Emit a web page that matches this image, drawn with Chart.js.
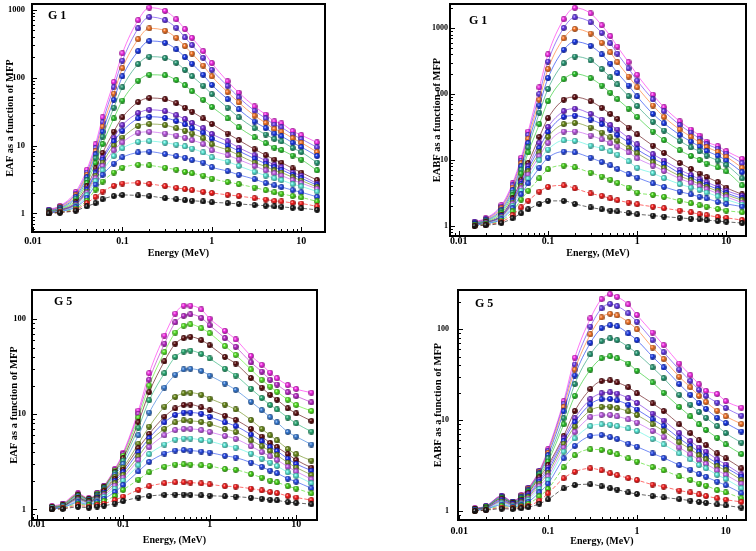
<!DOCTYPE html>
<html><head><meta charset="utf-8">
<script src="https://cdn.jsdelivr.net/npm/chart.js@4.4.1/dist/chart.umd.min.js"></script>
<style>
html,body{margin:0;padding:0;background:#fff;}
#wrap{position:relative;width:756px;height:551px;overflow:hidden;background:#fff;}
#wrap canvas{position:absolute;left:0;top:0;}
</style></head>
<body><div id="wrap">
<canvas id="c1" width="756" height="551"></canvas>
<canvas id="c2" width="756" height="551"></canvas>
<canvas id="c3" width="756" height="551"></canvas>
<canvas id="c4" width="756" height="551"></canvas>
</div>
<script>
// ---------- DATA ----------
const energies = [0.015,0.02,0.03,0.04,0.05,0.06,0.08,0.1,0.15,0.2,0.3,0.4,0.5,0.6,0.8,1,1.5,2,3,4,5,6,8,10,15];
const mfpValues = [0.5,1,2,3,4,5,6,7,8,10,15,20,25,30,35,40];
const xTickLabels = ['0.01','0.1','1','10'];
const yTickLabelsTop = ['1','10','100','1000'];
const yTickLabelsBottom = ['1','10','100'];

// G1 EAF (rows: mfp 0.5 ... 40)
const g1EAF = [
 [1.0,1.03,1.1,1.27,1.42,1.62,1.80,1.87,1.84,1.80,1.68,1.62,1.57,1.54,1.50,1.46,1.42,1.38,1.33,1.3,1.27,1.25,1.21,1.19,1.13],
 [1.01,1.04,1.13,1.42,1.75,2.1,2.55,2.75,2.82,2.72,2.52,2.38,2.28,2.2,2.08,2.0,1.88,1.8,1.68,1.6,1.53,1.5,1.43,1.4,1.27],
 [1.02,1.05,1.18,1.55,2.25,2.95,4.0,4.7,5.2,5.1,4.7,4.4,4.1,3.9,3.6,3.25,2.9,2.7,2.4,2.2,2.05,1.95,1.8,1.72,1.5],
 [1.02,1.06,1.24,1.7,2.65,3.7,5.4,6.7,7.9,8.1,7.5,7.0,6.6,6.1,5.6,4.8,4.2,3.7,3.2,2.8,2.6,2.45,2.2,2.05,1.75],
 [1.03,1.07,1.28,1.85,3.0,4.3,7.0,9.1,11.3,11.6,11,10.3,9.7,9.0,7.9,6.7,5.8,5.0,4.1,3.6,3.3,3.1,2.7,2.5,2.1],
 [1.03,1.08,1.32,2.0,3.3,5.0,8.5,11.1,15.4,15.9,15,14,13,12,10.5,8.5,7.2,6.2,5.0,4.3,3.9,3.6,3.1,2.8,2.3],
 [1.04,1.09,1.35,2.1,3.6,5.6,10,13.1,19.4,20.7,20,18,16.5,15,12.8,10.4,8.6,7.2,5.6,4.9,4.3,4.0,3.4,3.05,2.45],
 [1.04,1.10,1.38,2.2,3.9,6.2,11.5,16.4,25,26.5,25.5,23,20.5,18,15.5,12.6,10,8.3,6.4,5.4,4.8,4.4,3.7,3.3,2.6],
 [1.05,1.11,1.40,2.3,4.1,6.6,13,20,30,33.5,32,28,24.5,21.5,18,14.8,11.5,9.3,7.2,6.0,5.2,4.8,4.0,3.6,2.75],
 [1.05,1.12,1.45,2.5,4.6,7.8,16,26,43.6,50,48,42,36,31.5,25,20.8,15,12,8.8,7.2,6.2,5.6,4.6,4.0,3.1],
 [1.06,1.14,1.55,2.8,5.5,10.5,25,46,90,110,108,92,77,63,47,37,25,18.5,13.2,10.8,9.3,8.6,7.1,6.2,4.3],
 [1.08,1.17,1.65,3.1,6.5,13.5,36,72,158,203,195,165,130,105,76,57,36,26,18,14.5,12.5,11.5,9.2,8.0,5.6],
 [1.09,1.20,1.75,3.4,7.4,16,47,104,245,345,325,260,200,160,110,78,48,34,22.5,18,15,13.7,11,9.5,7.0],
 [1.10,1.23,1.85,3.7,8.3,19,58,138,367,530,490,385,290,225,150,104,61,43,27.5,21.5,17.5,16,12.8,11,8.0],
 [1.12,1.26,1.95,4.0,9.2,22,72,177,530,780,700,540,390,300,195,130,75,51,32.5,25,20.3,18.5,14.5,12.5,9.4],
 [1.14,1.29,2.07,4.4,10.4,26,86,228,700,1070,960,720,515,385,245,163,88,60,37.6,28.5,22.7,21.2,16.3,14.2,11.1]
];

// G1 EABF
const g1EABF = [
 [1.0,1.02,1.1,1.3,1.55,1.78,2.15,2.39,2.39,2.15,1.9,1.78,1.7,1.65,1.56,1.5,1.43,1.38,1.32,1.28,1.25,1.22,1.18,1.15,1.1],
 [1.01,1.04,1.15,1.45,1.9,2.4,3.3,3.9,4.1,3.7,3.1,2.85,2.6,2.45,2.25,2.12,1.95,1.85,1.7,1.6,1.5,1.45,1.36,1.32,1.22],
 [1.02,1.06,1.2,1.65,2.5,3.4,5.25,7.2,8.2,7.7,6.4,5.6,5.0,4.5,3.8,3.2,2.95,2.75,2.4,2.2,2.05,1.95,1.8,1.7,1.6],
 [1.03,1.07,1.26,1.85,3.0,4.4,7.6,10.8,13.4,13,10.8,9.3,8.3,7.3,6.1,5.4,4.4,3.9,3.3,3.0,2.75,2.6,2.3,2.15,1.96],
 [1.03,1.08,1.3,2.0,3.4,5.2,9.9,14.4,19.8,19.5,16.5,15,13.5,12,9.5,7.6,6.3,5.3,4.3,3.8,3.5,3.2,2.8,2.5,2.1],
 [1.04,1.09,1.34,2.15,3.7,6.0,11.4,18.2,27,27,23.5,20.5,18,16,13,10.6,8.2,6.8,5.2,4.5,4.0,3.6,3.1,2.75,2.25],
 [1.04,1.10,1.37,2.25,4.0,6.7,13,22.4,35,36.5,31,26,22,19.5,15.2,12.6,9.2,7.6,5.7,4.9,4.3,3.9,3.35,2.95,2.45],
 [1.05,1.11,1.40,2.35,4.3,7.3,15.3,26.5,45,47,41,35,29,24,18.5,14.5,10.5,8.7,6.3,5.4,4.7,4.2,3.6,3.15,2.6],
 [1.05,1.12,1.42,2.45,4.6,8.0,18.2,31.7,55,60,50,41,34,29,21.5,17.2,12.2,9.8,7.1,5.9,5.1,4.6,3.9,3.4,2.85],
 [1.06,1.13,1.45,2.6,5.0,9.0,22.4,43,82,90,78,62,50,42,31,24.5,16.5,12.8,9.0,7.3,6.2,5.5,4.6,3.8,3.0],
 [1.07,1.15,1.55,2.9,6.2,13,35,78,168,203,175,135,105,84,60,45,27,20,14,11.5,10,8.8,7.7,6.7,4.1],
 [1.08,1.18,1.65,3.2,7.1,15.5,52,120,295,372,325,240,180,140,93,66,38,28,19.5,15.5,13.5,11.6,9.8,8.4,5.25],
 [1.1,1.21,1.75,3.5,8.0,18,67,175,470,625,540,400,290,210,135,92,50,36,24,19,16,13.7,11.6,9.8,6.5],
 [1.11,1.24,1.85,3.8,8.9,21,82,240,700,975,830,600,430,305,185,127,67,45,29,22.5,18.5,15.7,13.3,11.2,7.6],
 [1.13,1.27,1.95,4.1,9.8,24,100,310,1010,1460,1230,850,590,410,245,160,83,55,34,26,21,17.5,14.8,12.5,8.9],
 [1.15,1.3,2.05,4.4,10.8,27,126,400,1370,2040,1680,1110,760,525,305,196,98,63,38.5,29,23.5,18.9,16.2,13.6,10.4]
];

// G5 EAF
const g5EAF = [
 [1.0,1.01,1.06,1.04,1.07,1.09,1.15,1.22,1.33,1.38,1.42,1.43,1.43,1.42,1.40,1.39,1.37,1.36,1.32,1.29,1.26,1.24,1.19,1.17,1.13],
 [1.01,1.02,1.10,1.07,1.11,1.15,1.25,1.36,1.60,1.75,1.88,1.92,1.92,1.91,1.87,1.83,1.75,1.73,1.65,1.58,1.52,1.48,1.38,1.33,1.25],
 [1.01,1.03,1.14,1.10,1.15,1.22,1.38,1.60,2.05,2.45,2.80,2.95,2.97,2.95,2.90,2.85,2.65,2.60,2.35,2.15,2.0,1.92,1.75,1.65,1.47],
 [1.01,1.04,1.18,1.12,1.19,1.29,1.52,1.80,2.50,3.15,3.85,4.15,4.2,4.15,4.05,3.95,3.65,3.5,3.1,2.8,2.55,2.4,2.1,1.95,1.66],
 [1.02,1.05,1.21,1.14,1.22,1.35,1.65,2.0,2.9,3.8,4.8,5.4,5.55,5.55,5.35,5.2,4.7,4.45,3.85,3.4,3.1,2.85,2.45,2.25,1.88],
 [1.02,1.05,1.24,1.16,1.25,1.40,1.77,2.15,3.3,4.5,6.0,6.8,7.0,7.0,6.8,6.5,5.9,5.5,4.6,4.0,3.6,3.3,2.8,2.5,2.07],
 [1.02,1.06,1.27,1.18,1.28,1.45,1.88,2.3,3.6,5.1,7.0,8.2,8.6,8.5,8.3,7.9,7.0,6.5,5.3,4.6,4.1,3.7,3.1,2.75,2.3],
 [1.03,1.06,1.29,1.19,1.30,1.50,1.98,2.45,4.0,5.6,8.2,9.8,10.4,10.4,10.1,9.4,8.2,7.5,6.1,5.2,4.5,4.1,3.4,3.0,2.55],
 [1.03,1.07,1.31,1.21,1.33,1.55,2.08,2.6,4.4,6.2,9.4,11.5,12.5,12.6,11.8,11.0,9.6,8.7,7.0,5.8,5.0,4.5,3.8,3.3,2.74],
 [1.03,1.07,1.33,1.22,1.35,1.58,2.18,2.75,4.9,7.4,12,15.2,16.6,16.8,16,14.6,12.6,11.2,8.7,7.0,6.0,5.3,4.3,3.8,3.25],
 [1.04,1.08,1.36,1.24,1.38,1.63,2.3,3.0,6.0,10.4,19,26,29.5,30,28.5,25.5,21,18,13.5,11,9.3,8.2,6.5,5.8,4.8],
 [1.04,1.09,1.38,1.25,1.40,1.67,2.4,3.25,7.2,14,27,40,45.5,46.5,43,38.5,30,25.5,18.5,14.8,12.5,11.2,9.2,8.0,6.55],
 [1.05,1.10,1.41,1.27,1.43,1.70,2.48,3.45,8.2,17,36,55,63,65,60,53,40,34,24,19,16,14.2,11.5,10.2,8.5],
 [1.06,1.12,1.43,1.28,1.45,1.73,2.55,3.65,9.2,20,45,72,85,88,80,71,52,42,29.5,23,19.5,17.2,14.2,12.5,10.8],
 [1.07,1.13,1.45,1.29,1.47,1.75,2.6,3.8,10.1,23,55,92,108,112,103,86,63,51,35,28,23,20.5,17,15.5,13.3],
 [1.08,1.15,1.47,1.30,1.48,1.77,2.65,3.94,10.9,26.9,67,114,138,138,126,101,75,61,41,33,27.3,23.8,20.2,18.4,16.8]
];

// G5 EABF
const g5EABF = [
 [1.0,1.02,1.06,1.05,1.07,1.1,1.2,1.34,1.77,1.93,1.97,1.87,1.78,1.72,1.6,1.54,1.46,1.41,1.35,1.3,1.26,1.23,1.18,1.15,1.09],
 [1.01,1.03,1.09,1.07,1.1,1.14,1.3,1.56,2.29,2.7,2.95,2.8,2.6,2.48,2.3,2.19,1.95,1.85,1.68,1.6,1.52,1.46,1.38,1.33,1.26],
 [1.01,1.04,1.13,1.09,1.13,1.2,1.45,1.75,3.02,4.1,4.77,4.7,4.45,4.2,3.8,3.5,3.05,2.8,2.4,2.2,2.0,1.9,1.7,1.6,1.38],
 [1.02,1.05,1.17,1.11,1.16,1.26,1.6,2.0,3.8,5.2,6.7,6.87,6.5,6.2,5.5,5.1,4.3,3.85,3.2,2.85,2.55,2.38,2.1,1.92,1.57],
 [1.02,1.05,1.21,1.13,1.19,1.32,1.75,2.2,4.5,6.3,8.6,9.0,8.9,8.6,8.1,7.6,6.2,5.4,4.3,3.7,3.2,2.95,2.5,2.25,1.78],
 [1.02,1.06,1.24,1.15,1.22,1.37,1.88,2.4,5.0,7.4,10.8,11.4,11.4,11.0,10.2,9.4,7.6,6.5,5.0,4.2,3.65,3.3,2.8,2.5,2.0],
 [1.03,1.07,1.27,1.17,1.25,1.42,2.0,2.6,5.5,8.5,12.8,14,14.1,13.6,12.5,11.4,9.0,7.6,5.7,4.8,4.1,3.7,3.1,2.8,2.19],
 [1.03,1.07,1.30,1.19,1.28,1.47,2.1,2.8,5.9,9.5,15,17,17.1,16.5,14.8,13.1,10.2,8.6,6.3,5.2,4.5,4.0,3.35,3.0,2.39],
 [1.03,1.08,1.33,1.2,1.3,1.52,2.2,3.0,6.3,10.5,17,19.8,20.2,19.6,17.5,15.5,11.8,9.9,7.2,5.9,5.0,4.5,3.7,3.25,2.53],
 [1.04,1.09,1.36,1.22,1.33,1.58,2.35,3.2,6.7,12.6,22,27,27.4,26,23,19.7,15.3,12.6,9.0,7.2,6.0,5.3,4.3,3.8,2.95],
 [1.04,1.10,1.38,1.23,1.36,1.62,2.45,3.5,9.0,18.5,36,48,50.4,48,42,35,26,20,14,11,9.0,7.8,6.4,5.4,4.24],
 [1.05,1.11,1.40,1.24,1.39,1.66,2.55,3.8,10.5,25,53,74,79.5,76,64,54.5,38,29,19,14.8,12.3,10.6,8.6,7.2,5.65],
 [1.05,1.12,1.42,1.25,1.42,1.70,2.62,4.1,12.5,31,71,103,111,108,90,76,50,38,25,19,15.5,13.3,10.6,9.3,7.5],
 [1.06,1.12,1.44,1.26,1.45,1.74,2.7,4.35,14,36,88,135,148,142,120,100,63,47,30,23,18.5,15.8,12.7,11,9.1],
 [1.06,1.13,1.46,1.27,1.48,1.77,2.75,4.55,15.2,41,107,170,190,180,150,121,76,56,36,27,21.5,18.5,15.6,13.6,11.2],
 [1.07,1.13,1.47,1.27,1.5,1.8,2.78,4.77,16.2,48.7,132,215,243,228,188,144,92,67,42,31.3,24.8,21,19.4,16.2,13.7]
];

// ---------- STYLES ----------
const coloursA = ['#1a1a1a','#ff2020','#4cdc1e','#2a4ef0','#5ef2e0','#c860f0','#6e8f1c','#1a2cf0','#7b2ee0','#620e12','#2ecc30','#2aa07a','#1c3cf0','#ff7a2a','#6a3cf0','#ff2ef0'];
const coloursB = ['#1a1a1a','#ff2020','#4cdc1e','#2a4ef0','#5ef2e0','#c860f0','#6e8f1c','#1a2cf0','#620e12','#6e8f1c','#3a80dc','#2db37a','#5e1010','#5cf02a','#c02ccf','#ff2ef0'];

function hexToRgb(h){const n=parseInt(h.slice(1),16);return [(n>>16)&255,(n>>8)&255,n&255];}
function rgba(h,a){const [r,g,b]=hexToRgb(h);return `rgba(${r},${g},${b},${a})`;}
function shade(h,f){const [r,g,b]=hexToRgb(h);const s=v=>Math.max(0,Math.min(255,Math.round(v*(1+f))));return `rgb(${s(r)},${s(g)},${s(b)})`;}
const spriteCache={};
function sphere(col){
  if(spriteCache[col]) return spriteCache[col];
  const s=6,c=document.createElement('canvas');c.width=s;c.height=s;
  const g=c.getContext('2d');
  const grd=g.createRadialGradient(2.1,2.0,0.2,3,3,3.1);
  grd.addColorStop(0,'#ffffff');grd.addColorStop(0.3,col);grd.addColorStop(1,shade(col,-0.5));
  g.fillStyle=grd;g.beginPath();g.arc(3,3,2.9,0,Math.PI*2);g.fill();
  spriteCache[col]=c;return c;
}

function makeTicks(min,max){
  const out=[];
  for(let k=Math.floor(Math.log10(min));k<=Math.ceil(Math.log10(max));k++){
    for(let m=1;m<=9;m++){
      const v=parseFloat((m*Math.pow(10,k)).toPrecision(6));
      if(v>=min&&v<=max) out.push({value:v,decade:m===1});
    }
  }
  return out;
}
function labelFor(list,v){const f=list.find(l=>Math.abs(parseFloat(l)-v)<1e-9*Math.max(1,v));return f||'';}

const framePlugin={
  id:'frame',
  afterDraw(chart,args,o){
    const {ctx,chartArea:a,scales:{x,y}}=chart;
    ctx.save();
    ctx.strokeStyle='#000';ctx.lineWidth=1;ctx.beginPath();
    x.ticks.forEach(t=>{const px=Math.round(x.getPixelForValue(t.value))+0.5;const L=t.decade?5:3;ctx.moveTo(px,a.bottom);ctx.lineTo(px,a.bottom-L);});
    y.ticks.forEach(t=>{const py=Math.round(y.getPixelForValue(t.value))+0.5;const L=t.decade?5:3;ctx.moveTo(a.left,py);ctx.lineTo(a.left+L,py);});
    ctx.stroke();
    ctx.lineWidth=2;ctx.strokeRect(a.left,a.top,a.right-a.left,a.bottom-a.top);
    ctx.fillStyle='#000';ctx.font='bold 12px "Liberation Serif"';ctx.textBaseline='middle';ctx.textAlign='left';
    ctx.fillText(o.label,o.lx,o.ly);
    ctx.restore();
  }
};

const panels=[
 {id:'c1',rows:g1EAF,colours:coloursA,label:'G 1',lx:48,ly:16,yTitle:'EAF as a function of MFP',xTitle:'Energy (MeV)',yLabels:yTickLabelsTop,yFont:8.5,
  L:32,R:325,T:2,B:232,yTitleX:10,yPad:7,xPad:3,xTitleY:253.5,xmin:0.00975,xmax:18.4,ymin:0.533,ymax:1212},
 {id:'c2',rows:g1EABF,colours:coloursA,label:'G 1',lx:469,ly:21,yTitle:'EABF as a function of MFP',xTitle:'Energy, (MeV)',yLabels:yTickLabelsTop,yFont:8,
  L:450,R:746,T:4,B:236,yTitleX:437,yPad:2,xPad:-1,xTitleY:253.3,xmin:0.00796,xmax:16.6,ymin:0.723,ymax:2335},
 {id:'c3',rows:g5EAF,colours:coloursB,label:'G 5',lx:54,ly:302,yTitle:'EAF as a function of MFP',xTitle:'Energy, (MeV)',yLabels:yTickLabelsBottom,yFont:8.5,
  L:32,R:317,T:290,B:520,yTitleX:14,yPad:6,xPad:-2,xTitleY:540,xmin:0.00883,xmax:17.4,ymin:0.772,ymax:202},
 {id:'c4',rows:g5EABF,colours:coloursA,label:'G 5',lx:475,ly:304,yTitle:'EABF as a function of MFP',xTitle:'Energy, (MeV)',yLabels:yTickLabelsBottom,yFont:8,
  L:458,R:746,T:290,B:520,yTitleX:438,yPad:9,xPad:5,xTitleY:541.7,xmin:0.0097,xmax:16.9,ymin:0.796,ymax:271}
];

const serif='"Liberation Serif", "Times New Roman", serif';
panels.forEach(p=>{
  const scaleLeft=p.yTitleX-6.3, W=p.L-scaleLeft;
  const scaleBottom=p.xTitleY+6, H=scaleBottom-p.B;
  const datasets=p.rows.map((vals,i)=>{
    const col=p.colours[i];
    return {
      label:mfpValues[i]+' mfp',
      data:energies.map((e,j)=>({x:e,y:vals[j]})),
      borderColor:rgba(col,0.65),borderWidth:1,
      borderDash:i<3?[4,2]:[],
      cubicInterpolationMode:'monotone',
      pointStyle:sphere(col),pointRadius:3,pointBorderWidth:0,
      backgroundColor:col
    };
  });
  new Chart(document.getElementById(p.id),{
    type:'line',
    data:{datasets},
    options:{
      responsive:false,animation:false,devicePixelRatio:1,
      layout:{padding:{left:scaleLeft,right:756-p.R,top:p.T,bottom:551-scaleBottom}},
      plugins:{legend:{display:false},tooltip:{enabled:false},frame:{label:p.label,lx:p.lx,ly:p.ly}},
      scales:{
        x:{type:'logarithmic',min:p.xmin,max:p.xmax,position:'bottom',
          grid:{display:false,drawTicks:false},border:{display:false},
          afterBuildTicks:s=>{s.ticks=makeTicks(p.xmin,p.xmax);},
          afterFit:s=>{s.height=H;s.paddingLeft=0;s.paddingRight=0;s.paddingTop=0;s.paddingBottom=0;},
          ticks:{autoSkip:false,maxRotation:0,minRotation:0,padding:p.xPad,color:'#000',
            font:{family:serif,size:10,weight:'bold'},
            callback:(v)=>labelFor(xTickLabels,v)},
          title:{display:true,text:p.xTitle,color:'#000',padding:0,font:{family:serif,size:10,weight:'bold'}}
        },
        y:{type:'logarithmic',min:p.ymin,max:p.ymax,position:'left',
          grid:{display:false,drawTicks:false},border:{display:false},
          afterBuildTicks:s=>{s.ticks=makeTicks(p.ymin,p.ymax);},
          afterFit:s=>{s.width=W;s.paddingLeft=0;s.paddingRight=0;s.paddingTop=0;s.paddingBottom=0;},
          ticks:{autoSkip:false,padding:p.yPad,color:'#000',
            font:{family:serif,size:p.yFont,weight:'bold'},
            callback:(v)=>labelFor(p.yLabels,v)},
          title:{display:true,text:p.yTitle,color:'#000',padding:0,font:{family:serif,size:10.5,weight:'bold'}}
        }
      }
    },
    plugins:[framePlugin]
  });
});
</script>
</body></html>
